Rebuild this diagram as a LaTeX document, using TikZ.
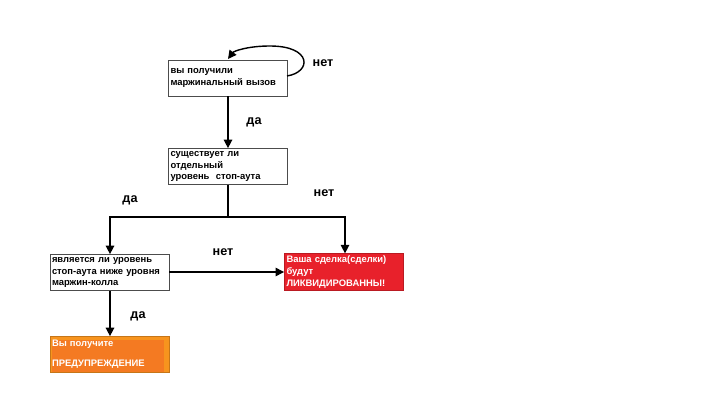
\documentclass[tikz,border=0pt]{standalone}
\usepackage{fontspec}
\setmainfont{Liberation Sans}
\usepackage{xcolor}
\usetikzlibrary{arrows.meta,positioning}
\definecolor{liqred}{HTML}{E8212B}
\definecolor{warnout}{HTML}{F7941E}
\definecolor{warnin}{HTML}{F47A22}
\tikzset{
  qbox/.style={draw=black!70,line width=0.5pt,minimum width=119*0.025cm,minimum height=36*0.025cm,
    text width=115*0.025cm,align=left,inner sep=1.5pt,font=\bfseries\fontsize{6.7}{8.4}\selectfont},
  ans/.style={font=\bfseries\fontsize{9}{10}\selectfont},
  flow/.style={-{Triangle[length=6pt,width=6pt]},line width=1pt}
}
\begin{document}
\begin{tikzpicture}[x=0.025cm,y=-0.025cm]
\useasboundingbox (0,0) rectangle (701,413);
% boxes
\node[qbox](call) at (228,78){вы получили\\маржинальный вызов};
\node[qbox](stop) at (228,166.5){существует ли\\отдельный\\уровень\ \ стоп-аута};
\node[qbox](below) at (109.5,272.5){является ли уровень\\стоп-аута ниже уровня\\маржин-колла};
\node[qbox,draw=liqred!80!black,fill=liqred,text=white](liq) at (344,272){Ваша сделка(сделки)\\будут\\ЛИКВИДИРОВАННЫ!};
\node[qbox,draw=warnout!80!black,fill=warnout](warn) at (109.5,354.5){};
\node[fill=warnin,minimum width=112*0.025cm,minimum height=32*0.025cm,inner sep=0pt](warnbg) at (107.5,356){};
\node[text width=115*0.025cm,align=left,inner sep=1.5pt,text=white,font=\bfseries\fontsize{6.7}{8.4}\selectfont](warntxt) at (109.5,354.5){Вы получите\\[6pt]ПРЕДУПРЕЖДЕНИЕ};
% connectors
\coordinate (fork) at (228,217);
\coordinate (forkl) at (110,217);
\coordinate (forkr) at (345,217);
\draw[flow] (call.south) -- (stop.north);
\draw[line width=1pt] (stop.south) -- (fork);
\draw[flow] (fork) -- (forkl) -- (below.north-|forkl);
\draw[flow] (fork) -- (forkr) -- (liq.north-|forkr);
\draw[flow] (below.east|-liq.west) -- (liq.west);
\draw[flow] (below.south-|forkl) -- (warn.north-|forkl);
\coordinate (loopa) at (287,76);
\draw[flow] (loopa) .. controls (312,72) and (312,46) .. (270,46) .. controls (248,46) and (234,51) .. (228,59);
% answers
\node[ans](no1) at (323,63){нет};
\node[ans](yes1) at (254,122){да};
\node[ans](yes2) at (130,200){да};
\node[ans](no2) at (324,193){нет};
\node[ans](no3) at (223,252){нет};
\node[ans](yes3) at (138,316){да};
\end{tikzpicture}
\end{document}
